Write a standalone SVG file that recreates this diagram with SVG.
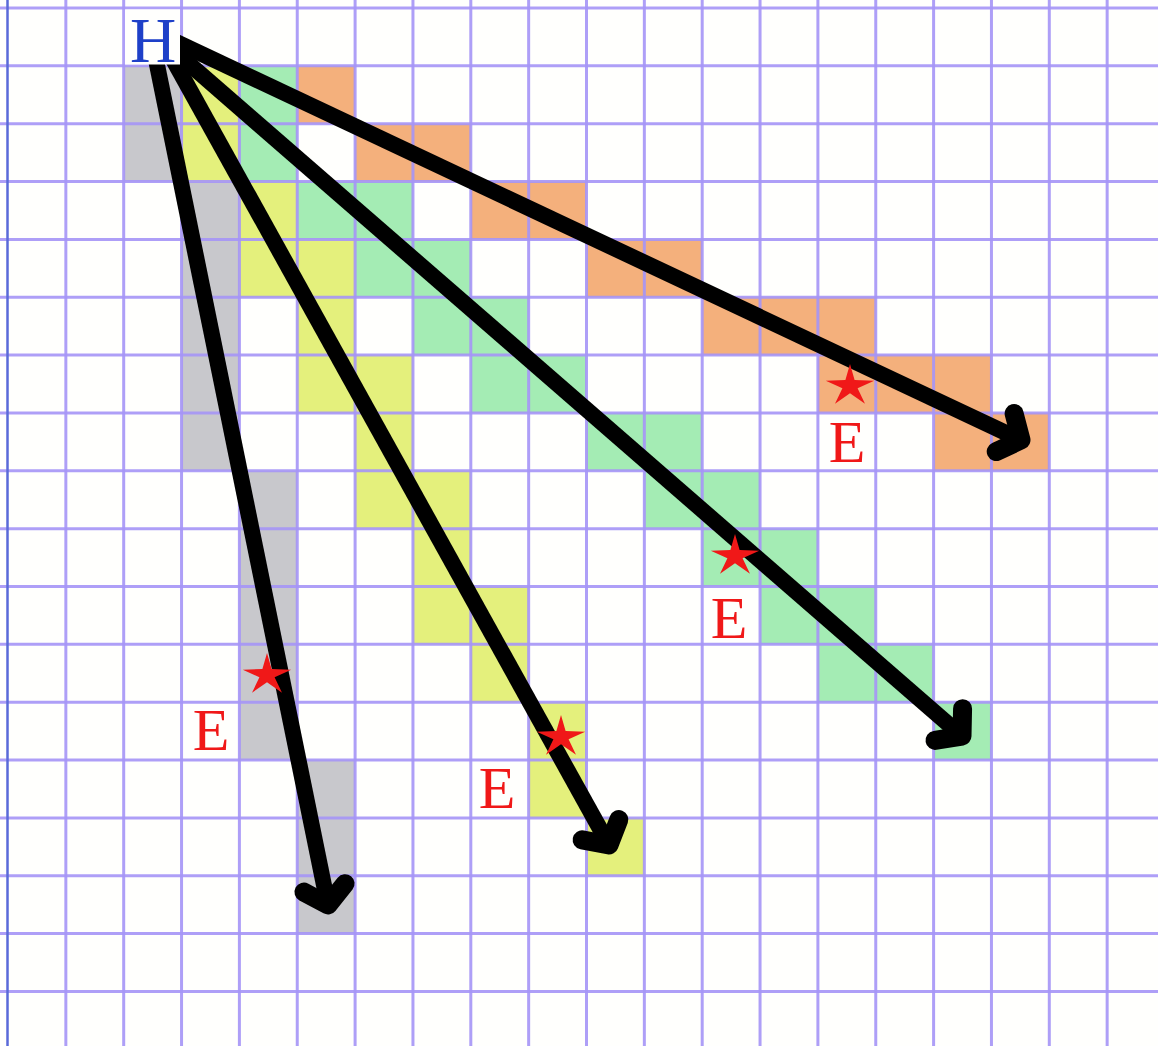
<svg xmlns="http://www.w3.org/2000/svg" xmlns:xlink="http://www.w3.org/1999/xlink" width="1158" height="1046" viewBox="0 0 1158 1046">
<style>
.gray{fill:#c8c8cc}
.yel{fill:#e4f07c}
.grn{fill:#a4ecb4}
.org{fill:#f4b07c}
.grid{stroke:#a595f6;stroke-width:3;fill:none;stroke-opacity:0.9}
.arrow{stroke:#000;stroke-width:16;fill:none;marker-end:url(#ah)}
.lbl{font-family:"Liberation Serif","Times New Roman",serif;text-anchor:middle}
.e{fill:#f01818;font-size:60px}
.h{fill:#1e40c8;font-size:64px}
.star{fill:#f01818}
</style>
<defs>
<marker id="ah" viewBox="-40 -40 60 80" refX="0" refY="0" markerWidth="60" markerHeight="80" markerUnits="userSpaceOnUse" orient="auto" overflow="visible">
<path d="M-17.5,-21 L0,0 L-17.5,21" fill="none" stroke="#000" stroke-width="19" stroke-linecap="round" stroke-linejoin="round"/>
</marker>
<path id="st" d="M0,-25 L4.6,-6.7 L24.2,-6 L7.6,2.6 L15,20.2 L0,8.2 L-15,20.2 L-7.6,2.6 L-24.2,-6 L-4.6,-6.7 Z" transform="scale(1,0.88)"/>
</defs>
<rect x="0" y="0" width="1158" height="1046" fill="#fffffd"/>
<g id="cells">
<g id="cells-gray">
<rect class="gray" x="123.7" y="65.85" width="57.85" height="115.7"/>
<rect class="gray" x="181.55" y="181.55" width="57.85" height="289.25"/>
<rect class="gray" x="239.4" y="470.8" width="57.85" height="289.25"/>
<rect class="gray" x="297.25" y="760.05" width="57.85" height="173.55"/>
</g>
<g id="cells-yellow">
<rect class="yel" x="181.55" y="65.85" width="57.85" height="115.7"/>
<rect class="yel" x="239.4" y="181.55" width="57.85" height="115.7"/>
<rect class="yel" x="297.25" y="239.4" width="57.85" height="173.55"/>
<rect class="yel" x="355.1" y="355.1" width="57.85" height="173.55"/>
<rect class="yel" x="412.95" y="470.8" width="57.85" height="173.55"/>
<rect class="yel" x="470.8" y="586.5" width="57.85" height="115.7"/>
<rect class="yel" x="528.65" y="702.2" width="57.85" height="115.7"/>
<rect class="yel" x="586.5" y="817.9" width="57.85" height="57.85"/>
</g>
<g id="cells-green">
<rect class="grn" x="239.4" y="65.85" width="57.85" height="115.7"/>
<rect class="grn" x="297.25" y="181.55" width="57.85" height="57.85"/>
<rect class="grn" x="355.1" y="181.55" width="57.85" height="115.7"/>
<rect class="grn" x="412.95" y="239.4" width="57.85" height="115.7"/>
<rect class="grn" x="470.8" y="297.25" width="57.85" height="115.7"/>
<rect class="grn" x="528.65" y="355.1" width="57.85" height="57.85"/>
<rect class="grn" x="586.5" y="412.95" width="57.85" height="57.85"/>
<rect class="grn" x="644.35" y="412.95" width="57.85" height="115.7"/>
<rect class="grn" x="702.2" y="470.8" width="57.85" height="115.7"/>
<rect class="grn" x="760.05" y="528.65" width="57.85" height="115.7"/>
<rect class="grn" x="817.9" y="586.5" width="57.85" height="115.7"/>
<rect class="grn" x="875.75" y="644.35" width="57.85" height="57.85"/>
<rect class="grn" x="933.6" y="702.2" width="57.85" height="57.85"/>
</g>
<g id="cells-orange">
<rect class="org" x="297.25" y="65.85" width="57.85" height="57.85"/>
<rect class="org" x="355.1" y="123.7" width="115.7" height="57.85"/>
<rect class="org" x="470.8" y="181.55" width="115.7" height="57.85"/>
<rect class="org" x="586.5" y="239.4" width="115.7" height="57.85"/>
<rect class="org" x="702.2" y="297.25" width="173.55" height="57.85"/>
<rect class="org" x="817.9" y="355.1" width="173.55" height="57.85"/>
<rect class="org" x="933.6" y="412.95" width="115.7" height="57.85"/>
</g>
</g>
<g id="grid">
<path class="grid" d="M65.85 0V1046M123.7 0V1046M181.55 0V1046M239.4 0V1046M297.25 0V1046M355.1 0V1046M412.95 0V1046M470.8 0V1046M528.65 0V1046M586.5 0V1046M644.35 0V1046M702.2 0V1046M760.05 0V1046M817.9 0V1046M875.75 0V1046M933.6 0V1046M991.45 0V1046M1049.3 0V1046M1107.15 0V1046"/>
<path class="grid" d="M0 8H1158M0 65.85H1158M0 123.7H1158M0 181.55H1158M0 239.4H1158M0 297.25H1158M0 355.1H1158M0 412.95H1158M0 470.8H1158M0 528.65H1158M0 586.5H1158M0 644.35H1158M0 702.2H1158M0 760.05H1158M0 817.9H1158M0 875.75H1158M0 933.6H1158M0 991.45H1158"/>
<path d="M7.5 0V1046" stroke="#5a6ad8" stroke-width="2.5"/>
</g>
<g id="connectors">
<line id="arrow-gray" class="arrow" x1="153" y1="45" x2="328" y2="905"/>
<line id="arrow-yellow" class="arrow" x1="165" y1="45" x2="609" y2="845"/>
<line id="arrow-green" class="arrow" x1="172" y1="49" x2="962" y2="736"/>
<line id="arrow-orange" class="arrow" x1="172" y1="40" x2="1021" y2="440"/>
</g>
<g id="node-H">
<rect x="125" y="9.5" width="55" height="55" fill="#fffffd"/>
<text class="lbl h" x="153" y="62">H</text>
</g>
<g id="node-E-gray">
<use xlink:href="#st" href="#st" x="267" y="675" class="star"/>
<text class="lbl e" x="211" y="750">E</text>
</g>
<g id="node-E-yellow">
<use xlink:href="#st" href="#st" x="561" y="737" class="star"/>
<text class="lbl e" x="497" y="808">E</text>
</g>
<g id="node-E-green">
<use xlink:href="#st" href="#st" x="735" y="556" class="star"/>
<text class="lbl e" x="729" y="638">E</text>
</g>
<g id="node-E-orange">
<use xlink:href="#st" href="#st" x="850" y="386" class="star"/>
<text class="lbl e" x="847" y="462">E</text>
</g>
</svg>
